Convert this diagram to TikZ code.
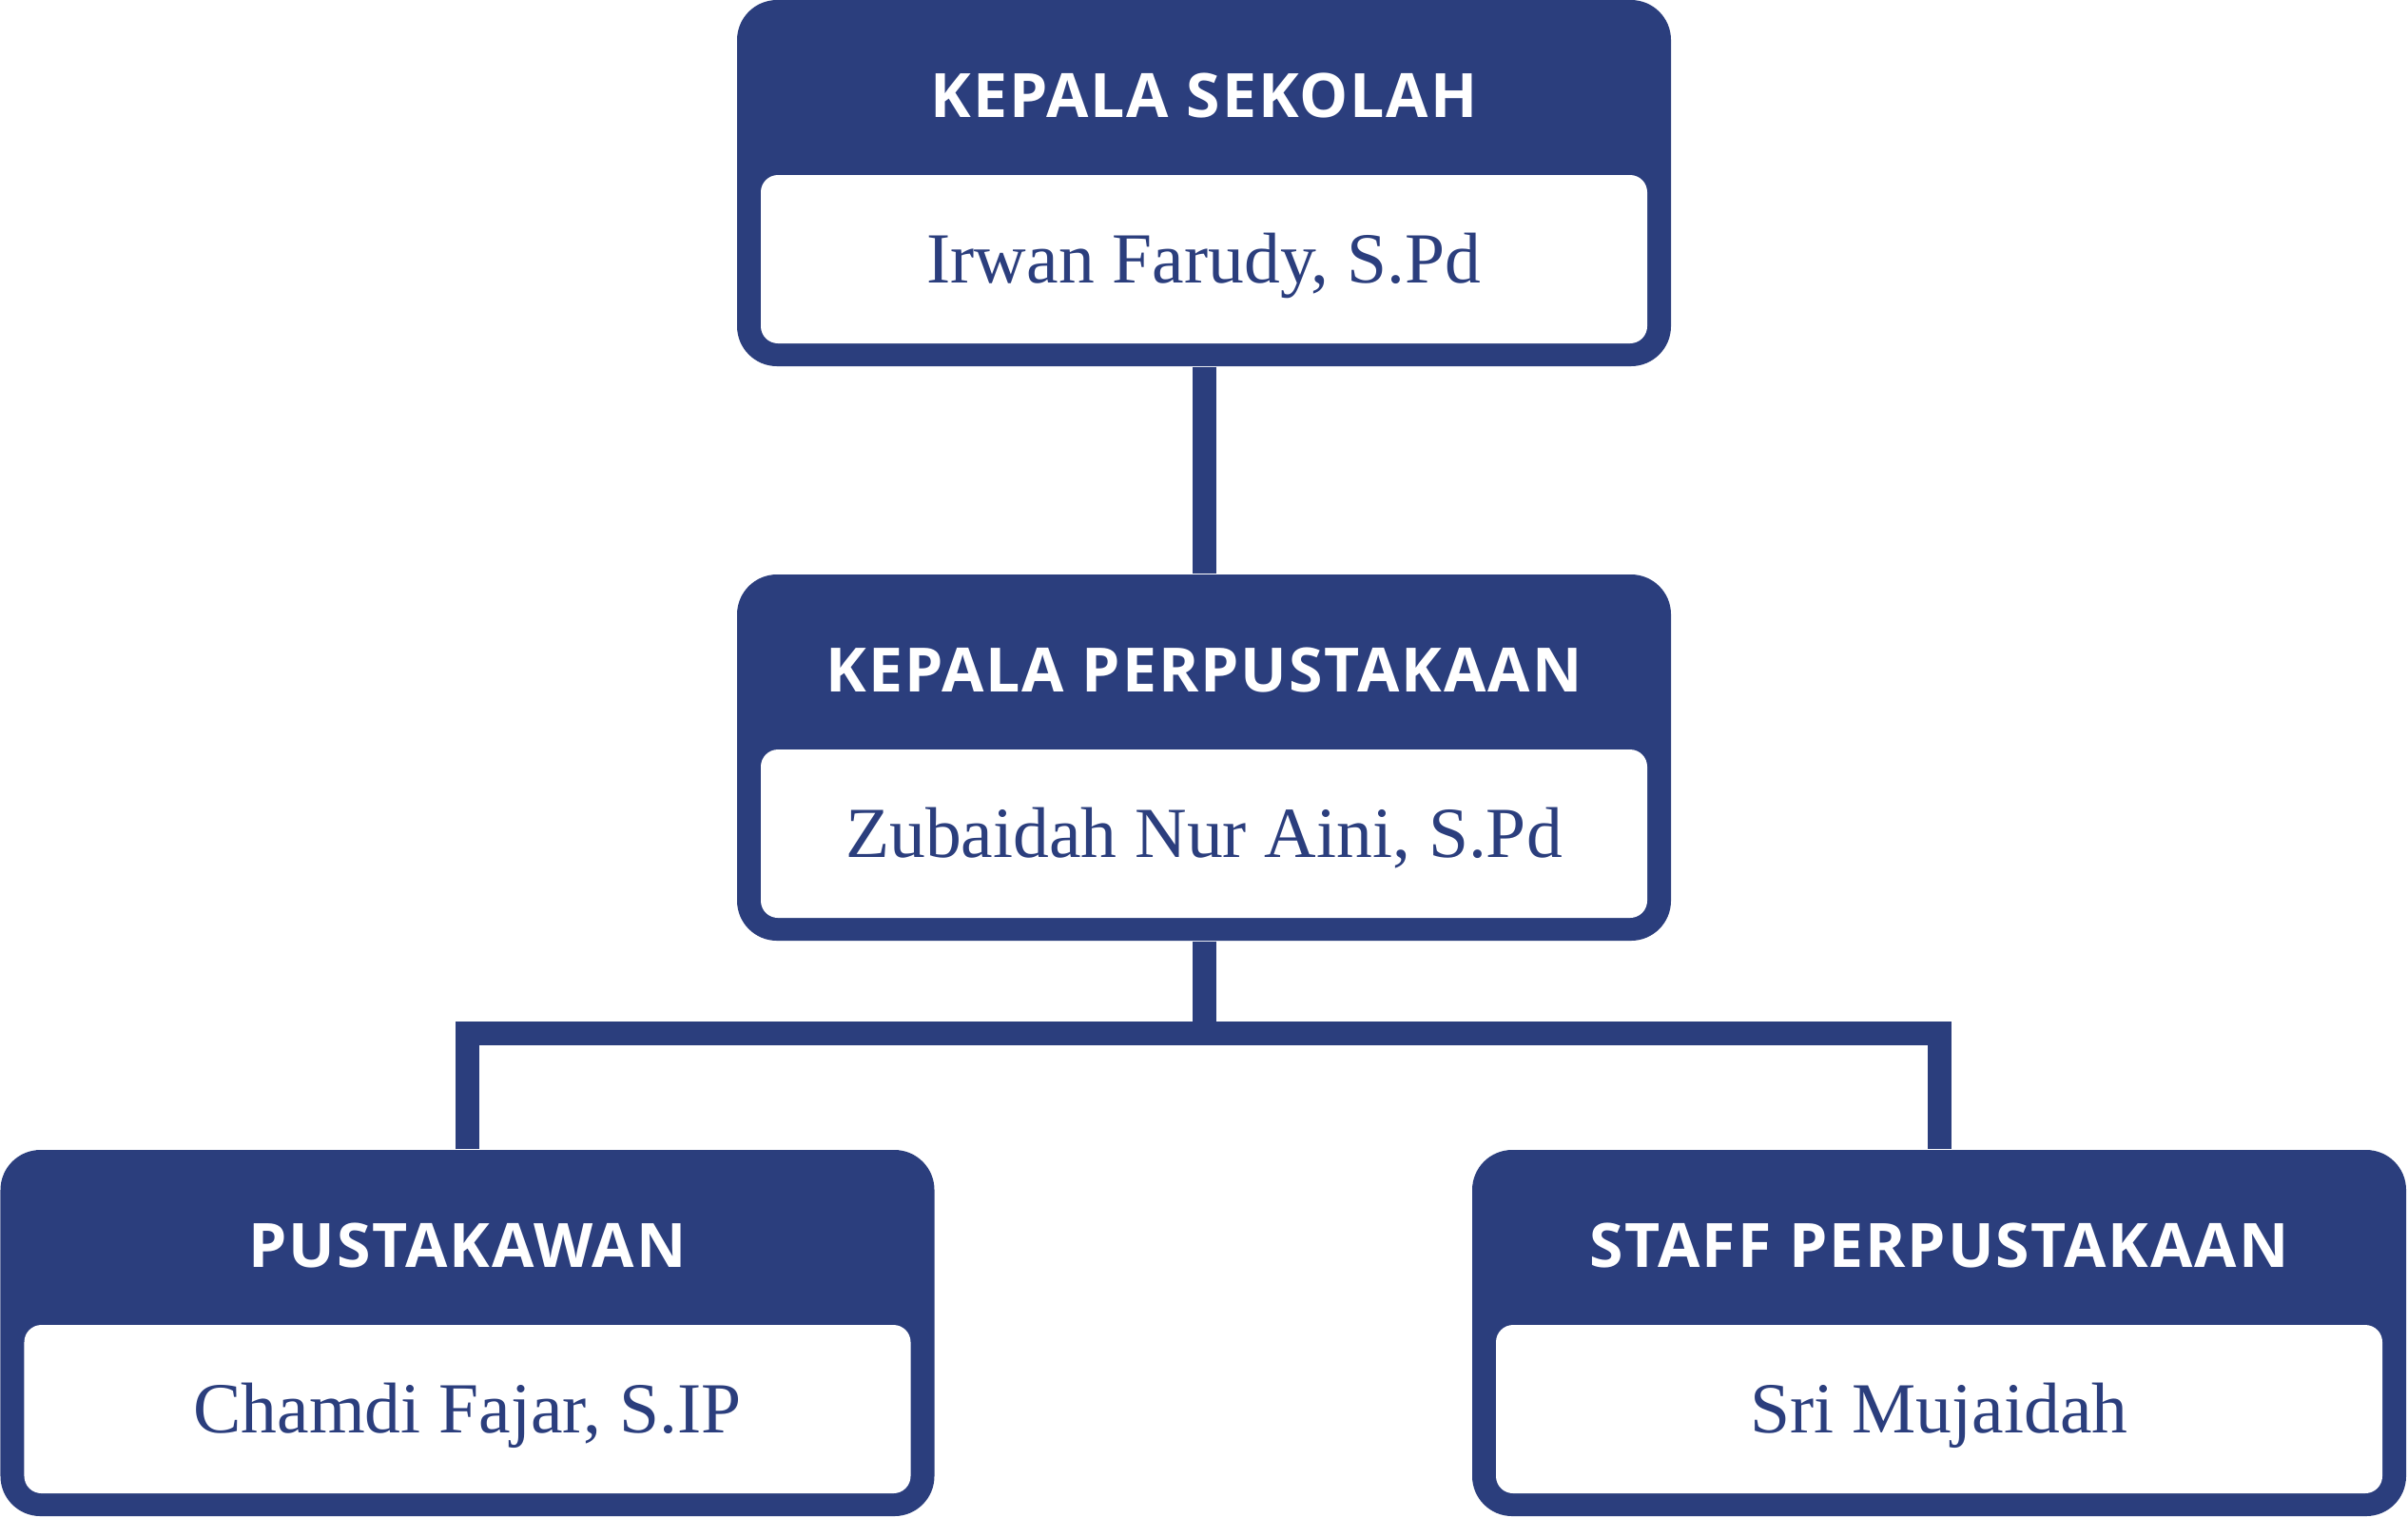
\documentclass[tikz,border=0pt]{standalone}
\usepackage{fontspec}
\newfontfamily\judulfont[LetterSpace=3]{Open Sans}
\newfontfamily\namafont{Liberation Serif}
\usetikzlibrary{positioning, calc}
\definecolor{navy}{RGB}{43,62,125}

\begin{document}
\begin{tikzpicture}[
    kotak/.style={
        rectangle, fill=navy, rounded corners=0.42cm,
        minimum width=9.82cm, minimum height=3.85cm, inner sep=0pt
    },
    isi/.style={
        rectangle, fill=white, rounded corners=0.18cm,
        minimum width=9.32cm, minimum height=1.77cm, inner sep=0pt
    },
    judul/.style={
        anchor=base, text=white, inner sep=0pt,
        font=\judulfont\bfseries\fontsize{18.3pt}{20pt}\selectfont
    },
    nama/.style={
        anchor=base, text=navy, inner sep=0pt,
        font=\namafont\fontsize{21.5pt}{24pt}\selectfont
    },
    garis/.style={draw=navy, line width=0.25cm}
]
\useasboundingbox (0,0) rectangle (25.32,-15.95);

% ---------------------------------------------------------------------
% 1. TOP: KEPALA SEKOLAH
% ---------------------------------------------------------------------
\node[kotak] (KS) at (12.66, -1.925) {};
\node[isi] (KSisi) at (12.66, -2.725) {};
\node[judul] (KSjudul) at (12.66, -1.23) {KEPALA SEKOLAH};
\node[nama] (KSnama) at (12.66, -2.97) {Irwan Farudy, S.Pd};

% ---------------------------------------------------------------------
% 2. MIDDLE: KEPALA PERPUSTAKAAN
% ---------------------------------------------------------------------
\node[kotak] (KP) at (12.66, -7.965) {};
\node[isi] (KPisi) at (12.66, -8.765) {};
\node[judul] (KPjudul) at (12.66, -7.27) {KEPALA PERPUSTAKAAN};
\node[nama] (KPnama) at (12.66, -9.01) {Zubaidah Nur Aini, S.Pd};

% ---------------------------------------------------------------------
% 3. BOTTOM LEFT: PUSTAKAWAN
% ---------------------------------------------------------------------
\node[kotak] (PW) at (4.915, -14.015) {};
\node[isi] (PWisi) at (4.915, -14.815) {};
\node[judul] (PWjudul) at (4.915, -13.32) {PUSTAKAWAN};
\node[nama] (PWnama) at (4.915, -15.06) {Chamdi Fajar, S.IP};

% ---------------------------------------------------------------------
% 4. BOTTOM RIGHT: STAFF PERPUSTAKAAN
% ---------------------------------------------------------------------
\node[kotak] (SP) at (20.39, -14.015) {};
\node[isi] (SPisi) at (20.39, -14.815) {};
\node[judul] (SPjudul) at (20.39, -13.32) {STAFF PERPUSTAKAAN};
\node[nama] (SPnama) at (20.39, -15.06) {Sri Mujaidah};

% ---------------------------------------------------------------------
% CONNECTORS
% ---------------------------------------------------------------------
\coordinate (cabang) at (12.66, -10.865);
\draw[garis] (KS.south) -- (KP.north);
\draw[garis] (KP.south) -- (cabang);
\draw[garis] (PW.north) |- (cabang) -| (SP.north);

\end{tikzpicture}
\end{document}
